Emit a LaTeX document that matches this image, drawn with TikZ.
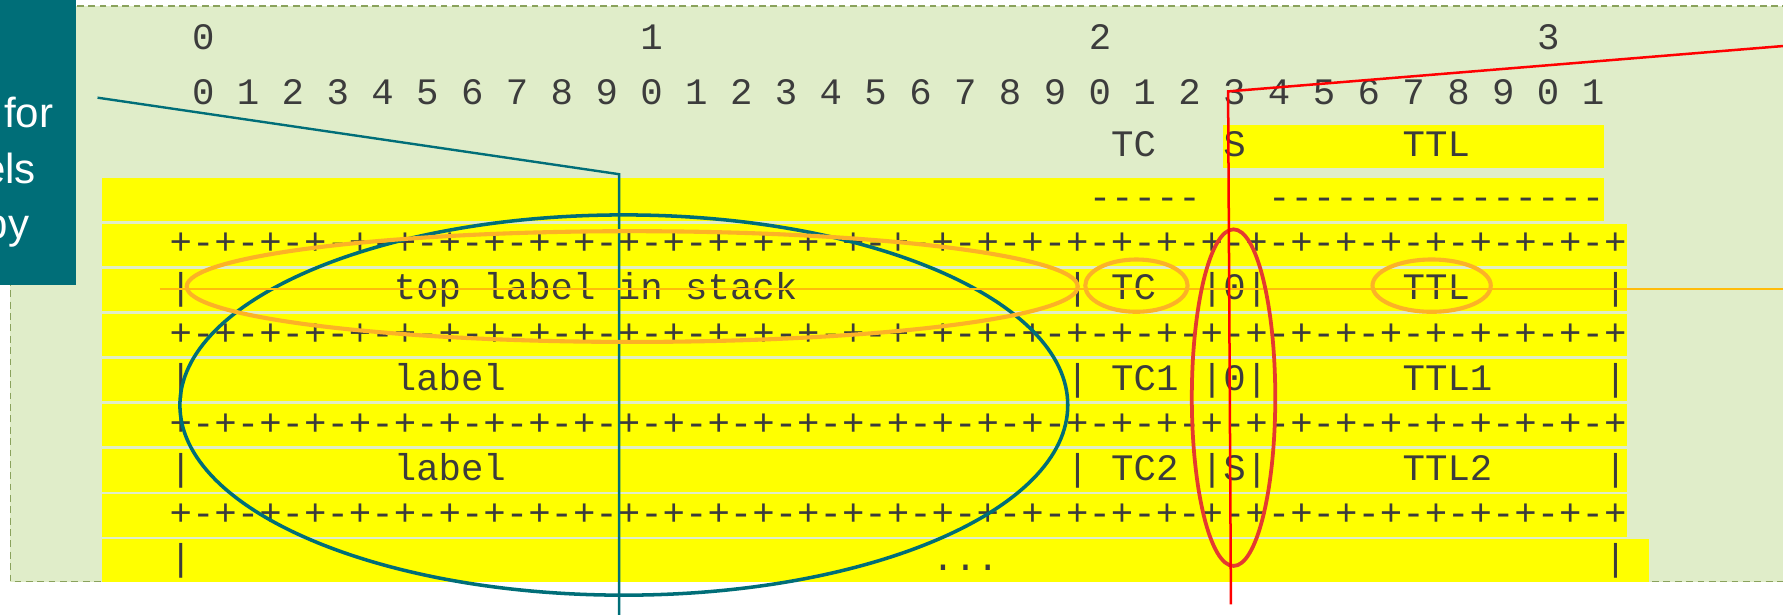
\documentclass[tikz,border=0pt]{standalone}
\usepackage{fontspec}
\setmainfont{Liberation Sans}
\setmonofont{Liberation Mono}
\definecolor{bgfill}{RGB}{224,237,201}
\definecolor{bgdash}{RGB}{138,162,92}
\definecolor{callteal}{RGB}{0,110,120}
\definecolor{hl}{RGB}{255,255,0}
\definecolor{txt}{RGB}{60,60,60}
\definecolor{amber}{RGB}{252,178,38}
\definecolor{amberline}{RGB}{255,188,10}
\definecolor{redell}{RGB}{228,58,48}
\definecolor{redline}{RGB}{255,0,0}
\newcommand{\colL}[1]{149.2+19.715*(#1)}
\begin{document}
\begin{tikzpicture}[x=1pt,y=-1pt,
  mono/.style={anchor=base west, inner sep=0pt, outer sep=0pt, text=txt,
    font=\ttfamily\fontsize{32.85}{39.69}\selectfont},
  calltext/.style={anchor=base east, inner sep=0pt, text=white,
    font=\fontsize{37}{44}\selectfont},
  band/.style={fill=hl, draw=none},
  tealline/.style={draw=callteal, line width=2.1pt},
  tealell/.style={draw=callteal, line width=3.1pt},
  ambell/.style={draw=amber, line width=3.6pt},
  ambline/.style={draw=amberline, line width=2.1pt},
  redell/.style={draw=redell, line width=3.3pt},
  redl/.style={draw=redline, line width=2.2pt}]
\useasboundingbox (0,0) rectangle (1568,540);
\begin{scope}
\clip (0,0) rectangle (1568,540);
% background panel
\path[fill=bgfill, draw=bgdash, line width=1pt, dash pattern=on 6pt off 4pt]
  (9.1,5.3) rectangle (1650,511.6);
% yellow highlight bands
\path[band] ({\colL{47}},110.2) rectangle ({\colL{64}},147.5);
\path[band] ({\colL{-3}},156.9) rectangle ({\colL{64}},194.2);
\foreach \b in {224.0,263.7,303.4,343.1,382.7,422.4,462.1}{
  \path[band] ({\colL{-3}},\b-27.4) rectangle ({\colL{65}},\b+9.9);
}
\path[band] ({\colL{-3}},474.4) rectangle ({\colL{66}},511.6);
% ruler
\node[mono] (t0) at ({\colL{1}},43.4) {0};
\node[mono] (t1) at ({\colL{21}},43.4) {1};
\node[mono] (t2) at ({\colL{41}},43.4) {2};
\node[mono] (t3) at ({\colL{61}},43.4) {3};
\node[mono] (units) at ({\colL{1}},91.5) {0 1 2 3 4 5 6 7 8 9 0 1 2 3 4 5 6 7 8 9 0 1 2 3 4 5 6 7 8 9 0 1};
% header
\node[mono] (hTC) at ({\colL{42}},137.6) {TC};
\node[mono] (hS) at ({\colL{47}},137.6) {S};
\node[mono] (hTTL) at ({\colL{55}},137.6) {TTL};
\node[mono] (dTC) at ({\colL{41}},184.3) {-{}-{}-{}-{}-};
\node[mono] (dTTL) at ({\colL{49}},184.3) {-{}-{}-{}-{}-{}-{}-{}-{}-{}-{}-{}-{}-{}-{}-};
% borders
\foreach \b/\n in {224.0/b1,303.4/b2,382.7/b3,462.1/b4}{
  \node[mono] (\n) at ({\colL{0}},\b) {+-+-+-+-+-+-+-+-+-+-+-+-+-+-+-+-+-+-+-+-+-+-+-+-+-+-+-+-+-+-+-+-+};
}
% row 1
\node[mono] (r1a) at ({\colL{0}},263.7) {|};
\node[mono] (r1lab) at ({\colL{10}},263.7) {top label in stack};
\node[mono] (r1b) at ({\colL{40}},263.7) {|};
\node[mono] (r1tc) at ({\colL{42}},263.7) {TC};
\node[mono] (r1s) at ({\colL{46}},263.7) {|0|};
\node[mono] (r1ttl) at ({\colL{55}},263.7) {TTL};
\node[mono] (r1c) at ({\colL{64}},263.7) {|};
% row 2
\node[mono] (r2a) at ({\colL{0}},343.1) {|};
\node[mono] (r2lab) at ({\colL{10}},343.1) {label};
\node[mono] (r2b) at ({\colL{40}},343.1) {|};
\node[mono] (r2tc) at ({\colL{42}},343.1) {TC1};
\node[mono] (r2s) at ({\colL{46}},343.1) {|0|};
\node[mono] (r2ttl) at ({\colL{55}},343.1) {TTL1};
\node[mono] (r2c) at ({\colL{64}},343.1) {|};
% row 3
\node[mono] (r3a) at ({\colL{0}},422.4) {|};
\node[mono] (r3lab) at ({\colL{10}},422.4) {label};
\node[mono] (r3b) at ({\colL{40}},422.4) {|};
\node[mono] (r3tc) at ({\colL{42}},422.4) {TC2};
\node[mono] (r3s) at ({\colL{46}},422.4) {|S|};
\node[mono] (r3ttl) at ({\colL{55}},422.4) {TTL2};
\node[mono] (r3c) at ({\colL{64}},422.4) {|};
% row 4
\node[mono] (r4a) at ({\colL{0}},501.8) {|};
\node[mono] (r4dots) at ({\colL{34}},501.8) {...};
\node[mono] (r4c) at ({\colL{64}},501.8) {|};
% callout box
\node[fill=callteal, draw=none, inner sep=0pt, anchor=north east,
  minimum width=120pt, minimum height=260pt] (callout) at (66.8,-10) {};
\node[calltext] (cfor) at (46.9,111.8) {for};
\node[calltext] (cels) at (31.9,161.3) {els};
\node[calltext] (cby) at (26.0,210.0) {by};
% teal callout pointer and ellipse
\coordinate (tA) at (85.8,85.9);
\coordinate (tB) at (544.5,153.2);
\coordinate (tC) at (544.5,560);
\draw[tealline] (tA) -- (tB) -- (tC);
\draw[tealell] (548.6,356.2) ellipse [x radius=390.4pt, y radius=167.2pt];
% amber marks
\coordinate (oA) at (140.7,254.3);
\coordinate (oB) at (1650,254.3);
\draw[ambline] (oA) -- (oB);
\draw[ambell] (556,252) ellipse [x radius=391.8pt, y radius=48.7pt];
\draw[ambell] (999.4,251.2) ellipse [x radius=45pt, y radius=23pt];
\draw[ambell] (1259,251.2) ellipse [x radius=52pt, y radius=23pt];
% red marks
\draw[redell] (1084.8,349.7) ellipse [x radius=36.7pt, y radius=148pt];
\coordinate (rA) at (1700,29.7);
\coordinate (rB) at (1080,80.4);
\coordinate (rC) at (1082.5,531.5);
\draw[redl] (rA) -- (rB) -- (rC);
\end{scope}
\end{tikzpicture}
\end{document}
